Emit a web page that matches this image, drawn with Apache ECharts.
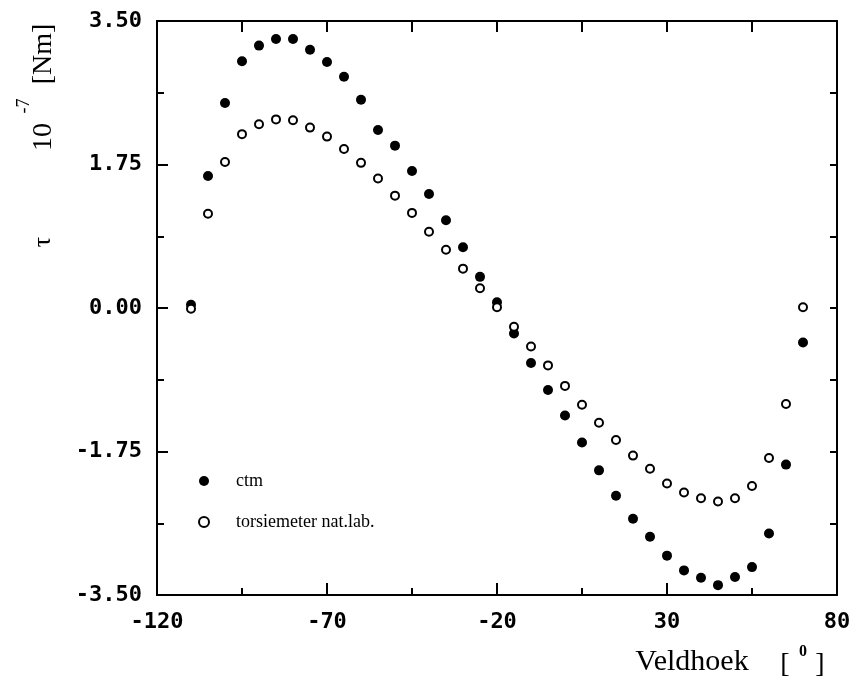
<!DOCTYPE html>
<html>
<head>
<meta charset="utf-8">
<script src="https://cdn.jsdelivr.net/npm/echarts@6/dist/echarts.min.js"></script>
<style>
  html, body { margin: 0; padding: 0; background: #fff; }
  #chart { width: 865px; height: 679px; }
</style>
</head>
<body>
<div id="chart"></div>
<script>
// veldhoek (graden)
const angles = [-110, -105, -100, -95, -90, -85, -80, -75, -70, -65, -60, -55, -50, -45, -40, -35, -30, -25, -20,
  -15, -10, -5, 0, 5, 10, 15, 20, 25, 30, 35, 40, 45, 50, 55, 60, 65, 70];
// koppel, 10^-7 Nm
const ctm = [0.04, 1.61, 2.50, 3.01, 3.20, 3.28, 3.28, 3.15, 3.00, 2.82, 2.54, 2.17, 1.98, 1.67, 1.39, 1.07, 0.74, 0.38, 0.07,
  -0.31, -0.67, -1.00, -1.31, -1.64, -1.98, -2.29, -2.57, -2.79, -3.02, -3.20, -3.29, -3.38, -3.28, -3.16, -2.75, -1.91, -0.42];
const torsiemeter = [-0.01, 1.15, 1.78, 2.12, 2.24, 2.30, 2.29, 2.20, 2.09, 1.94, 1.77, 1.58, 1.37, 1.16, 0.93, 0.71, 0.48, 0.24, 0.01,
  -0.23, -0.47, -0.70, -0.95, -1.18, -1.40, -1.61, -1.80, -1.96, -2.14, -2.25, -2.32, -2.36, -2.32, -2.17, -1.83, -1.17, 0.01];

const xTicks = [-120, -70, -20, 30, 80];
const xMinorTicks = [-95, -45, 5, 55];
const xAllTicks = [-120, -95, -70, -45, -20, 5, 30, 55, 80];
const seriesNames = ['ctm', 'torsiemeter nat.lab.'];

const SERIF = '"Liberation Serif", "DejaVu Serif", serif';
const MONO = '"DejaVu Sans Mono", "Liberation Mono", monospace';

function pairs(xs, ys) {
  return xs.map((x, i) => [x, ys[i]]);
}

const chart = echarts.init(document.getElementById('chart'), null, { renderer: 'canvas' });

const axisLine = { show: true, onZero: false, lineStyle: { color: '#000', width: 2 } };

const option = {
  backgroundColor: '#fff',
  animation: false,
  grid: { left: 157, right: 28, top: 21, bottom: 84, containLabel: false },
  legend: {
    orient: 'vertical',
    left: 193,
    top: 466,
    itemWidth: 54,
    itemHeight: 10,
    itemGap: 21,
    data: [
      { name: seriesNames[0] },
      { name: seriesNames[1], itemStyle: { borderWidth: 2.2 } }
    ],
    textStyle: { fontFamily: SERIF, fontSize: 18, color: '#000', lineHeight: 20 }
  },
  xAxis: [
    {
      type: 'value', position: 'bottom', min: -120, max: 80,
      axisLine: axisLine,
      splitLine: { show: false },
      axisTick: { show: true, inside: true, length: 12, customValues: xTicks, lineStyle: { color: '#000', width: 2 } },
      axisLabel: {
        customValues: xTicks, margin: 16,
        fontFamily: MONO, fontSize: 22, fontWeight: 'bold', color: '#000'
      }
    },
    {
      type: 'value', position: 'bottom', min: -120, max: 80,
      axisLine: { show: false, onZero: false },
      splitLine: { show: false },
      axisTick: { show: true, inside: true, length: 7, customValues: xMinorTicks, lineStyle: { color: '#000', width: 2 } },
      axisLabel: { show: false }
    },
    {
      type: 'value', position: 'top', min: -120, max: 80,
      axisLine: axisLine,
      splitLine: { show: false },
      axisTick: { show: true, inside: true, length: 11, customValues: xAllTicks, lineStyle: { color: '#000', width: 2 } },
      axisLabel: { show: false }
    }
  ],
  yAxis: [
    {
      type: 'value', position: 'left', min: -3.5, max: 3.5, interval: 1.75,
      axisLine: axisLine,
      splitLine: { show: false },
      axisTick: { show: true, inside: true, length: 11, lineStyle: { color: '#000', width: 2 } },
      minorTick: { show: true, splitNumber: 2, length: 7, lineStyle: { color: '#000', width: 2 } },
      axisLabel: {
        margin: 15, formatter: v => v.toFixed(2),
        fontFamily: MONO, fontSize: 22, fontWeight: 'bold', color: '#000'
      }
    },
    {
      type: 'value', position: 'right', min: -3.5, max: 3.5, interval: 0.875,
      axisLine: axisLine,
      splitLine: { show: false },
      axisTick: { show: true, inside: true, length: 7, lineStyle: { color: '#000', width: 2 } },
      axisLabel: { show: false }
    }
  ],
  series: [
    {
      name: seriesNames[0],
      type: 'scatter',
      symbol: 'circle',
      symbolSize: 10,
      itemStyle: { color: '#000', opacity: 1 },
      data: pairs(angles, ctm)
    },
    {
      name: seriesNames[1],
      type: 'scatter',
      symbol: 'emptyCircle',
      symbolSize: 8,
      itemStyle: { color: '#000', borderColor: '#000', borderWidth: 2.2, opacity: 1 },
      data: pairs(angles, torsiemeter)
    }
  ],
  graphic: [
    // x-as titel
    { type: 'text', x: 692, y: 662, style: { text: 'Veldhoek', font: '30px ' + SERIF, fill: '#000', align: 'center', verticalAlign: 'middle' } },
    { type: 'text', x: 785, y: 665, style: { text: '[', font: '28px ' + SERIF, fill: '#000', align: 'center', verticalAlign: 'middle' } },
    { type: 'text', x: 803, y: 652, style: { text: '0', font: 'bold 16px ' + SERIF, fill: '#000', align: 'center', verticalAlign: 'middle' } },
    { type: 'text', x: 820, y: 665, style: { text: ']', font: '28px ' + SERIF, fill: '#000', align: 'center', verticalAlign: 'middle' } },
    // y-as titel (gedraaid)
    { type: 'text', x: 43, y: 242, rotation: Math.PI / 2, style: { text: 'τ', font: '26px ' + SERIF, fill: '#000', align: 'center', verticalAlign: 'middle' } },
    { type: 'text', x: 44, y: 137, rotation: Math.PI / 2, style: { text: '10', font: '28px ' + SERIF, fill: '#000', align: 'center', verticalAlign: 'middle' } },
    { type: 'text', x: 24, y: 106, rotation: Math.PI / 2, style: { text: '-7', font: '18px ' + SERIF, fill: '#000', align: 'center', verticalAlign: 'middle' } },
    { type: 'text', x: 44, y: 54, rotation: Math.PI / 2, style: { text: '[Nm]', font: '28px ' + SERIF, fill: '#000', align: 'center', verticalAlign: 'middle' } }
  ]
};

chart.setOption(option);
</script>
</body>
</html>
